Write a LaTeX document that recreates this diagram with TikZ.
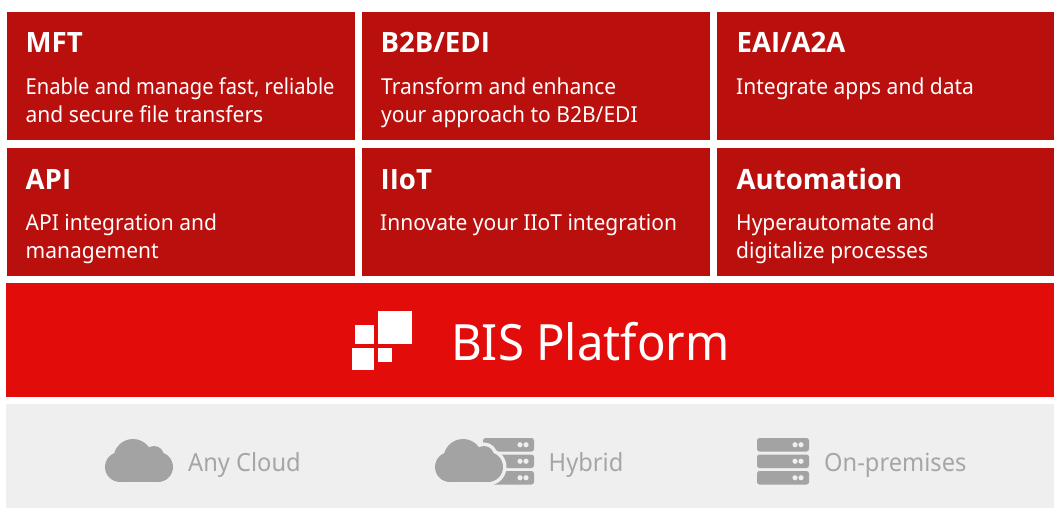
\documentclass[tikz,border=0pt]{standalone}
\usepackage{fontspec}
\setmainfont[FakeStretch=0.955]{Noto Sans}
\newfontfamily\tightfont[FakeStretch=0.915]{Noto Sans}
\newfontfamily\headfont[FakeStretch=0.985]{Open Sans Bold}
\definecolor{darkred}{HTML}{B90F0D}
\definecolor{brightred}{HTML}{E20C0A}
\definecolor{lightbg}{HTML}{EFEFEF}
\definecolor{icongray}{HTML}{A3A3A3}
\definecolor{labelgray}{HTML}{A6A6A6}
\tikzset{
  tile/.style={fill=darkred,draw=none},
  title/.style={anchor=base west,inner sep=0pt,text=white,font=\fontsize{28}{28}\selectfont\headfont},
  body/.style={anchor=base west,inner sep=0pt,text=white,font=\fontsize{22}{22}\selectfont},
  plat/.style={anchor=base west,inner sep=0pt,text=labelgray,font=\fontsize{25}{25}\selectfont},
}
\newcommand{\cloudshape}[2]{%
  \fill[#2] (#1+120,467) circle (15);
  \fill[#2] (#1+133,458.5) circle (19.5);
  \fill[#2] (#1+154,456) circle (10);
  \fill[#2] (#1+158,467) circle (15);
  \fill[#2] (#1+120,456) rectangle (#1+158,482);}
\newcommand{\cloudhalo}[2]{%
  \draw[#2,line width=7pt] (#1+120,467) circle (15);
  \draw[#2,line width=7pt] (#1+133,458.5) circle (19.5);
  \draw[#2,line width=7pt] (#1+154,456) circle (10);
  \draw[#2,line width=7pt] (#1+158,467) circle (15);
  \draw[#2,line width=7pt] (#1+120,482) -- (#1+158,482);}
\newcommand{\serverrow}[3]{%
  \fill[icongray,rounded corners=2.5] (#1,#2) rectangle (#3,#2+13.5);
  \fill[lightbg] (#3-14,#2+6.75) circle (2.6);
  \fill[lightbg] (#3-8,#2+6.75) circle (2.6);}
\begin{document}
\begin{tikzpicture}[x=1pt,y=-1pt]
\useasboundingbox (0,0) rectangle (1054,508);
\fill[white] (0,0) rectangle (1054,508);
\fill[tile] (7,12) rectangle (355,140);
\fill[tile] (362,12) rectangle (710,140);
\fill[tile] (717,12) rectangle (1054,140);
\fill[tile] (7,148) rectangle (355,276);
\fill[tile] (362,148) rectangle (710,276);
\fill[tile] (717,148) rectangle (1054,276);
\fill[brightred] (6,283) rectangle (1054,397);
\fill[lightbg] (6,404) rectangle (1054,508);

\node[title] (t1) at (25.5,53) {MFT};
\node[body,font=\fontsize{22}{22}\selectfont\tightfont] (b1a) at (25.5,94.5) {Enable and manage fast, reliable};
\node[body] (b1b) at (25.5,122) {and secure file transfers};
\node[title] (t2) at (380.5,53) {B2B/EDI};
\node[body] (b2a) at (381,94.5) {Transform and enhance};
\node[body] (b2b) at (381,122) {your approach to B2B/EDI};
\node[title] (t3) at (736.5,53) {EAI/A2A};
\node[body] (b3a) at (736,94.5) {Integrate apps and data};
\node[title] (t4) at (25.5,189) {API};
\node[body] (b4a) at (25.5,230) {API integration and};
\node[body] (b4b) at (25.5,258) {management};
\node[title] (t5) at (380.5,189) {IIoT};
\node[body] (b5a) at (380,230) {Innovate your IIoT integration};
\node[title] (t6) at (736.5,189) {Automation};
\node[body] (b6a) at (736,230) {Hyperautomate and};
\node[body] (b6b) at (736,258) {digitalize processes};

\fill[white] (378,311) rectangle (412,344);
\fill[white] (355,325) rectangle (374,344);
\fill[white] (352,348) rectangle (374,370);
\fill[white] (378,348) rectangle (392,362);
\node[anchor=base west,inner sep=0pt,text=white,font=\fontsize{50}{50}\selectfont\addfontfeature{FakeStretch=0.947}] (bis) at (451,360) {BIS Platform};

\cloudshape{0}{icongray}
\node[plat,font=\fontsize{25}{25}\selectfont\addfontfeature{FakeStretch=0.947}] (p1) at (188,471) {Any Cloud};

\serverrow{483}{438}{534}
\serverrow{483}{454.5}{534}
\serverrow{483}{471}{534}
\cloudhalo{330}{lightbg}
\cloudshape{330}{icongray}
\node[plat,font=\fontsize{25}{25}\selectfont\addfontfeature{FakeStretch=0.947}] (p2) at (548.5,471) {Hybrid};

\serverrow{757}{438}{809}
\serverrow{757}{454.5}{809}
\serverrow{757}{471}{809}
\node[plat,font=\fontsize{25}{25}\selectfont\addfontfeature{FakeStretch=0.947}] (p3) at (824,471) {On-premises};
\end{tikzpicture}
\end{document}
